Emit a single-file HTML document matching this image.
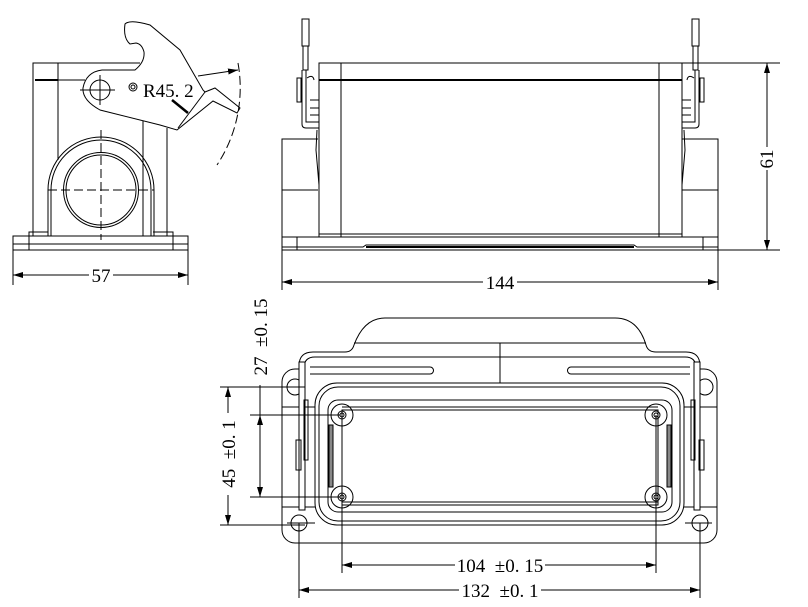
<!DOCTYPE html>
<html><head><meta charset="utf-8"><style>
html,body{margin:0;padding:0;background:#fff;}
svg{display:block;}
text{font-family:"Liberation Serif","Noto Serif CJK SC",serif;font-size:19px;fill:#000;}
</style></head><body>
<svg width="808" height="607" viewBox="0 0 808 607" xmlns="http://www.w3.org/2000/svg">
<defs>
<marker id="a" viewBox="0 0 10 6" refX="10" refY="3" markerWidth="10" markerHeight="6" orient="auto-start-reverse" markerUnits="userSpaceOnUse"><path d="M0,0 L10,3 L0,6 Z" fill="#000"/></marker>
</defs>
<g fill="none" stroke="#000" stroke-width="1">
<!-- ===== LEFT SIDE VIEW ===== -->
<rect x="13" y="236" width="175" height="14"/>
<line x1="13" y1="244" x2="188" y2="244"/>
<line x1="29" y1="236" x2="29" y2="250"/><line x1="173" y1="236" x2="173" y2="250"/>
<path d="M33,236 L33,63 L140,63"/>
<line x1="58" y1="63" x2="58" y2="160"/>
<line x1="35" y1="80" x2="58" y2="80" stroke-width="2"/>
<line x1="58" y1="80" x2="85" y2="80"/>
<path d="M143,120 L143,236 M167,128 L167,236"/>
<path d="M29,236 L29,232 L48,232 M173,236 L173,232 L153,232"/>
<path d="M48,236 L48,190 A53,53 0 0 1 154,190 L154,236"/>
<path d="M51,236 L51,190 A50,50 0 0 1 151,190 L151,236"/>
<circle cx="101" cy="190" r="37.5"/><circle cx="101" cy="190" r="35"/>
<g stroke-dasharray="9,4"><line x1="48" y1="190" x2="154" y2="190"/><line x1="101" y1="130" x2="101" y2="240"/></g>
<!-- lever -->
<path d="M125,24 Q130,19 150,25 L180,50 L203,90 L205,92 L215,88 L240,108 L237,113 L213,101 L177,130 L160,125 L100,110 Q82,100 83,88 Q86,72 102,70 L135,70 Q145,62 144,52 Q142,44 136,43 L130,44 Q123,38 125,24 Z" fill="#fff"/>
<path d="M205,92 L178,128"/>
<path d="M172,100 L188,113" stroke-width="2.5"/>
<circle cx="100" cy="90" r="10"/>
<line x1="80" y1="90" x2="115" y2="90"/><line x1="100" y1="75" x2="100" y2="105"/>
<circle cx="133" cy="87" r="4"/><circle cx="133" cy="87" r="2"/>
<path d="M198,76 L238,70" marker-end="url(#a)"/>
<path d="M238,63 A140,140 0 0 1 217,165" stroke-dasharray="9,4"/>
<!-- 57 dim -->
<line x1="13" y1="250" x2="13" y2="285"/><line x1="188" y1="250" x2="188" y2="285"/>
<line x1="13" y1="275" x2="89" y2="275" marker-start="url(#a)"/>
<line x1="113" y1="275" x2="188" y2="275" marker-end="url(#a)"/>

<!-- ===== FRONT VIEW ===== -->
<rect x="282" y="237" width="436" height="13"/>
<line x1="297" y1="237" x2="297" y2="250"/><line x1="703" y1="237" x2="703" y2="250"/>
<path d="M282,247 L363,247 L366,245 L634,245 L637,247 L718,247"/>
<line x1="366" y1="247" x2="634" y2="247" stroke-width="2"/>
<rect x="319" y="63" width="363" height="174"/>
<line x1="341" y1="63" x2="341" y2="237"/><line x1="659" y1="63" x2="659" y2="237"/>
<line x1="319" y1="80" x2="682" y2="80" stroke-width="2"/>
<line x1="319" y1="234" x2="682" y2="234"/>
<path d="M318,139 L282,139 L282,237 M282,190 L318,190"/>
<path d="M682,139 L718,139 L718,237 M682,190 L718,190"/>
<path d="M317,130 L316,150 L319,185 L319,234"/>
<path d="M684,130 L685,150 L682,185 L682,234"/>
<!-- left latch -->
<rect x="302" y="19" width="7" height="27"/>
<path d="M303,46 L303,70 L308,70 L308,46"/>
<path d="M302,70 L302,124 Q302,128 306,128 L319,128 M306,70 L306,122 L319,122"/>
<rect x="297" y="78" width="4" height="24"/>
<path d="M307,78 Q313,74 314,80 M310,100 L319,100 M310,108 L319,108 M310,115 L319,115"/>
<!-- right latch -->
<rect x="692" y="19" width="7" height="27"/>
<path d="M693,46 L693,70 L698,70 L698,46"/>
<path d="M699,70 L699,124 Q699,128 695,128 L682,128 M695,70 L695,122 L682,122"/>
<rect x="700" y="78" width="4" height="24"/>
<path d="M694,78 Q688,74 687,80 M691,100 L682,100 M691,108 L682,108 M691,115 L682,115"/>
<!-- 61 dim -->
<line x1="682" y1="63" x2="780" y2="63"/><line x1="718" y1="250" x2="780" y2="250"/>
<line x1="767" y1="147" x2="767" y2="63" marker-end="url(#a)"/>
<line x1="767" y1="170" x2="767" y2="250" marker-end="url(#a)"/>
<!-- 144 dim -->
<line x1="282" y1="250" x2="282" y2="290"/><line x1="718" y1="250" x2="718" y2="290"/>
<line x1="282" y1="282" x2="483" y2="282" marker-start="url(#a)"/>
<line x1="517" y1="282" x2="718" y2="282" marker-end="url(#a)"/>

<!-- ===== BOTTOM VIEW ===== -->
<rect x="282" y="369" width="435" height="174" rx="13"/>
<line x1="282" y1="407" x2="315" y2="407"/><line x1="684" y1="407" x2="717" y2="407"/>
<line x1="282" y1="507" x2="315" y2="507"/><line x1="684" y1="507" x2="717" y2="507"/>
<path d="M299,383 L299,366 Q299,352 313,352 L345,352 Q352,352 354,345 Q364,318 385,318 L615,318 Q638,318 646,345 Q648,352 656,352 L686,352 Q700,352 700,366 L700,383" fill="#fff"/>
<path d="M304,383 L304,368 Q304,357 315,357 L685,357 Q696,357 696,368 L696,383"/>
<line x1="354" y1="343" x2="646" y2="343"/>
<line x1="500" y1="343" x2="500" y2="383"/>
<path d="M310,367 L430,367 A3.5,3.5 0 0 1 430,374 L310,374"/>
<path d="M690,367 L571,367 A3.5,3.5 0 0 0 571,374 L690,374"/>
<rect x="315" y="383" width="369" height="142" rx="22"/>
<rect x="319" y="387" width="361" height="134" rx="19"/>
<rect x="328" y="400" width="344" height="112" rx="10"/>
<rect x="342" y="410" width="316" height="95"/>
<line x1="342" y1="407" x2="658" y2="407"/>
<line x1="342" y1="502" x2="658" y2="502"/>
<rect x="329" y="425" width="4" height="62" fill="#888"/>
<rect x="667" y="425" width="4" height="62" fill="#888"/>
<!-- screws -->
<g>
<circle cx="342" cy="415" r="11"/><circle cx="342" cy="415" r="4"/><circle cx="342" cy="415" r="2"/>
<circle cx="656" cy="415" r="11"/><circle cx="656" cy="415" r="4"/><circle cx="656" cy="415" r="2"/>
<circle cx="342" cy="497" r="11"/><circle cx="342" cy="497" r="4"/><circle cx="342" cy="497" r="2"/>
<circle cx="656" cy="497" r="11"/><circle cx="656" cy="497" r="4"/><circle cx="656" cy="497" r="2"/>
</g>
<!-- mount holes -->
<circle cx="299" cy="523" r="8"/><line x1="287" y1="523" x2="315" y2="523"/>
<circle cx="700" cy="523" r="8"/><line x1="685" y1="523" x2="712" y2="523"/>
<circle cx="295" cy="387" r="8"/><circle cx="705" cy="387" r="8"/>
<!-- side latches -->
<rect x="299" y="362" width="6" height="148" fill="#fff"/>
<rect x="304" y="400" width="4" height="60"/>
<rect x="296" y="440" width="5" height="30"/>
<rect x="694" y="362" width="6" height="148" fill="#fff"/>
<rect x="691" y="400" width="4" height="60"/>
<rect x="699" y="440" width="5" height="30"/>
<!-- dims bottom -->
<line x1="342" y1="415" x2="342" y2="573"/><line x1="656" y1="415" x2="656" y2="573"/>
<line x1="299" y1="523" x2="299" y2="598"/><line x1="700" y1="523" x2="700" y2="598"/>
<line x1="342" y1="565" x2="455" y2="565" marker-start="url(#a)"/>
<line x1="545" y1="565" x2="656" y2="565" marker-end="url(#a)"/>
<line x1="299" y1="590" x2="459" y2="590" marker-start="url(#a)"/>
<line x1="541" y1="590" x2="700" y2="590" marker-end="url(#a)"/>
<!-- left dims -->
<line x1="220" y1="387" x2="305" y2="387"/><line x1="220" y1="525" x2="305" y2="525"/>
<line x1="250" y1="415" x2="340" y2="415"/><line x1="250" y1="497" x2="340" y2="497"/>
<line x1="228" y1="413" x2="228" y2="387" marker-end="url(#a)"/>
<line x1="228" y1="495" x2="228" y2="525" marker-end="url(#a)"/>
<line x1="260" y1="385" x2="260" y2="415" />
<line x1="260" y1="430" x2="260" y2="415" marker-end="url(#a)"/>
<line x1="260" y1="430" x2="260" y2="497" marker-end="url(#a)"/>
</g>
<!-- texts -->
<text x="143" y="97">R45. 2</text>
<text x="101" y="282" text-anchor="middle">57</text>
<text x="500" y="289" text-anchor="middle">144</text>
<text transform="translate(773,159) rotate(-90)" text-anchor="middle">61</text>
<text x="500" y="572" text-anchor="middle" xml:space="preserve">104  ±0. 15</text>
<text x="500" y="597" text-anchor="middle" xml:space="preserve">132  ±0. 1</text>
<text transform="translate(235,454) rotate(-90)" text-anchor="middle" xml:space="preserve">45  ±0. 1</text>
<text transform="translate(267,337) rotate(-90)" text-anchor="middle" xml:space="preserve">27  ±0. 15</text>
</svg>
</body></html>
